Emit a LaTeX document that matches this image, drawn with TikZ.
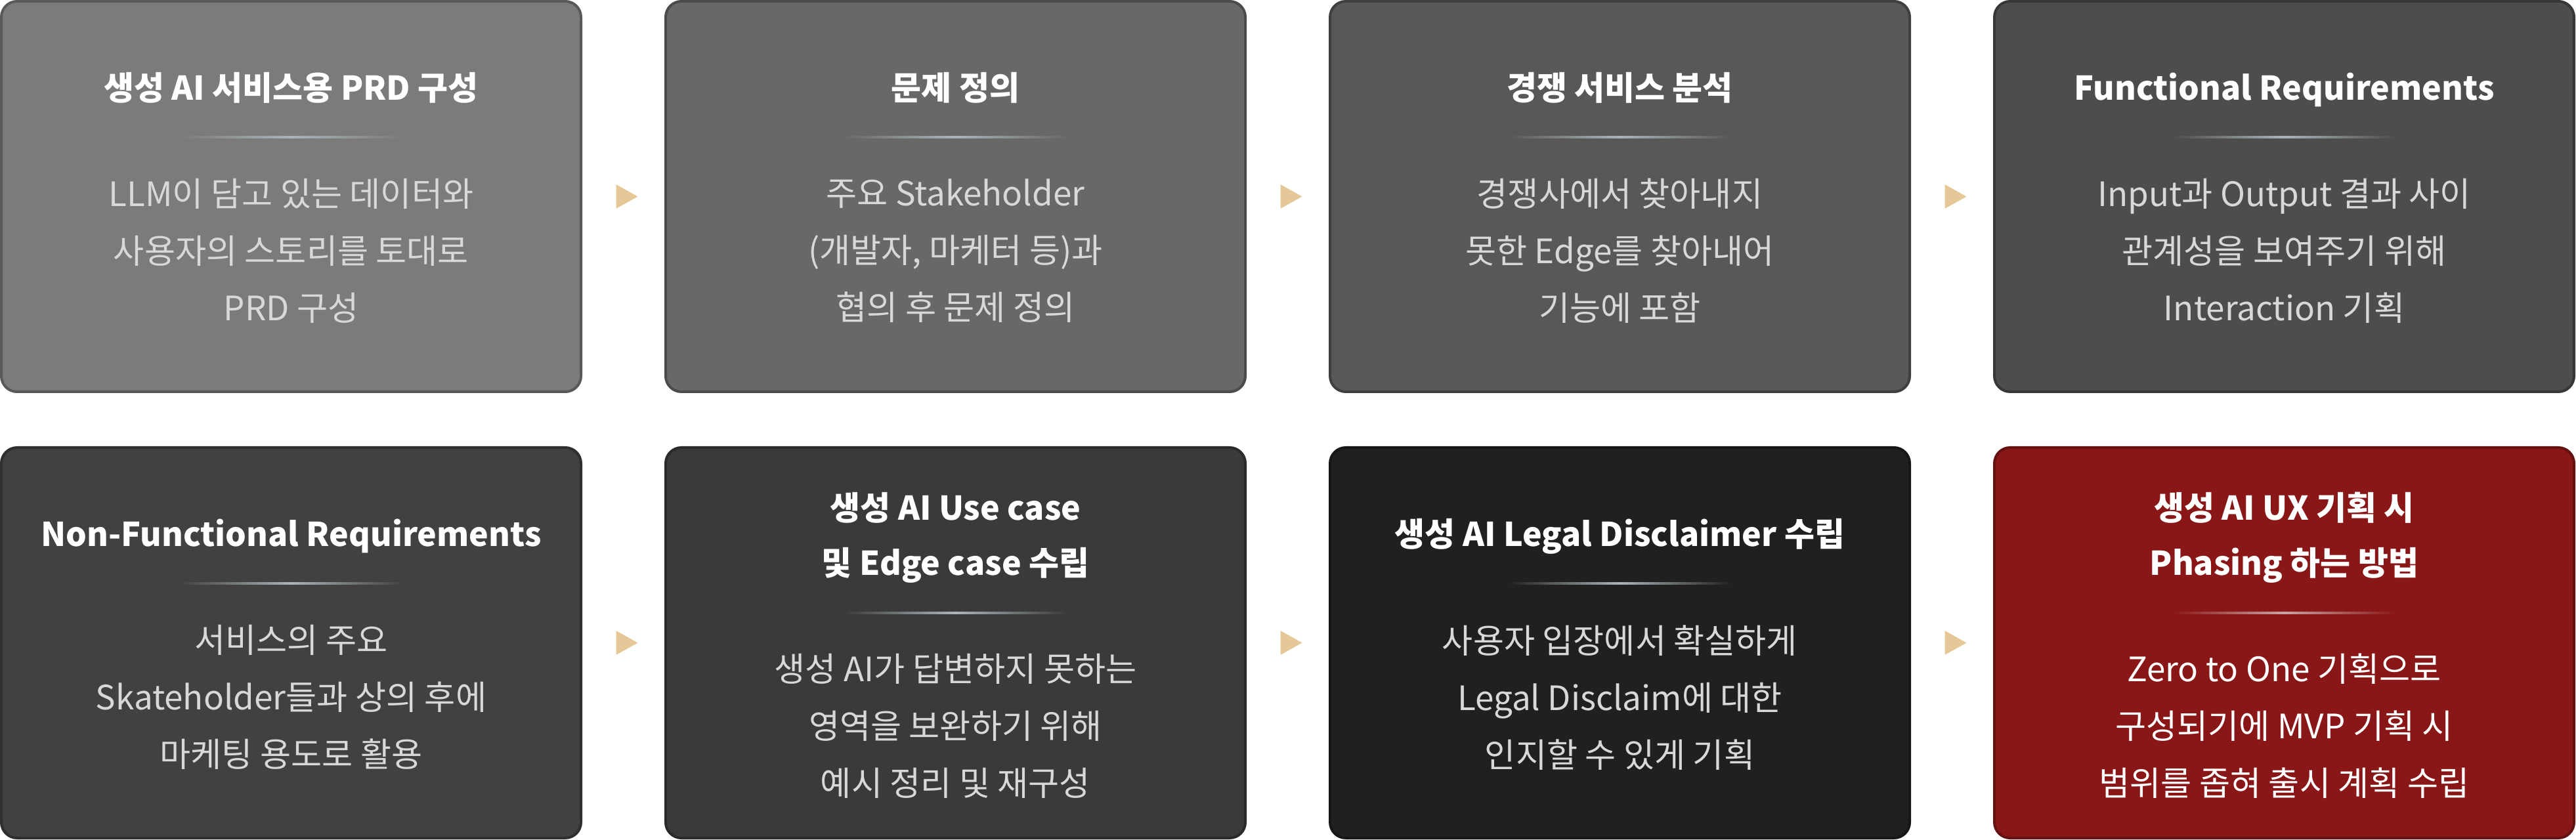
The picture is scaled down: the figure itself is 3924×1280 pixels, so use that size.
\documentclass[tikz,border=0pt]{standalone}
\usepackage{fontspec}
\setmainfont{Noto Sans CJK KR}
\usepackage{xcolor}
\usepackage{tikz}
\usetikzlibrary{positioning,calc}

\definecolor{cA}{HTML}{7B7B7B}
\definecolor{cB}{HTML}{686868}
\definecolor{cC}{HTML}{585858}
\definecolor{cD}{HTML}{4D4D4D}
\definecolor{cE}{HTML}{414141}
\definecolor{cF}{HTML}{3A3A3A}
\definecolor{cG}{HTML}{202020}
\definecolor{cH}{HTML}{8A1717}
\definecolor{bodyc}{HTML}{D8D8D8}
\definecolor{arrowc}{HTML}{E6C898}
\definecolor{divc}{HTML}{A9B5BA}
\definecolor{divr}{HTML}{C9A3A3}

\begin{document}
\begin{tikzpicture}[x=0.25pt, y=-0.25pt,
    card/.style={draw=#1!72!black, fill=#1, line width=1pt, rounded corners=6pt,
        minimum width=220.75pt, minimum height=148.75pt, inner sep=0pt},
    ttl/.style={anchor=south, text=white, align=center, inner sep=0pt, text depth=0pt,
        font={\fontsize{12.5pt}{21pt}\selectfont\bfseries}},
    txt/.style={anchor=north, text=bodyc, align=center, inner sep=0pt,
        font={\fontsize{12.8pt}{21.75pt}\selectfont}},
    tri/.style={fill=arrowc}]
    \useasboundingbox (0,0) rectangle (3924,1280);

    % Row 1
    \node[card=cA] (b1) at (443.5,299.5) {};
    \node[card=cB] (b2) at (1455.5,299.5) {};
    \node[card=cC] (b3) at (2467.5,299.5) {};
    \node[card=cD] (b4) at (3479.5,299.5) {};

    % Row 2
    \node[card=cE] (b5) at (443.5,979.5) {};
    \node[card=cF] (b6) at (1455.5,979.5) {};
    \node[card=cG] (b7) at (2467.5,979.5) {};
    \node[card=cH] (b8) at (3479.5,979.5) {};

    % Dividers
    \coordinate (d1) at ($(b1.center)+(0,-90)$);
    \coordinate (d2) at ($(b2.center)+(0,-90)$);
    \coordinate (d3) at ($(b3.center)+(0,-90)$);
    \coordinate (d4) at ($(b4.center)+(0,-90)$);
    \coordinate (d5) at ($(b5.center)+(0,-90)$);
    \coordinate (d6) at ($(b6.center)+(0,-46)$);
    \coordinate (d7) at ($(b7.center)+(0,-90)$);
    \coordinate (d8) at ($(b8.center)+(0,-46)$);
    \shade[left color=cA, right color=cA, middle color=divc] ($(d1)+(-170,-1.5)$) rectangle ($(d1)+(170,1.5)$);
    \shade[left color=cB, right color=cB, middle color=divc] ($(d2)+(-170,-1.5)$) rectangle ($(d2)+(170,1.5)$);
    \shade[left color=cC, right color=cC, middle color=divc] ($(d3)+(-170,-1.5)$) rectangle ($(d3)+(170,1.5)$);
    \shade[left color=cD, right color=cD, middle color=divc] ($(d4)+(-170,-1.5)$) rectangle ($(d4)+(170,1.5)$);
    \shade[left color=cE, right color=cE, middle color=divc] ($(d5)+(-170,-1.5)$) rectangle ($(d5)+(170,1.5)$);
    \shade[left color=cF, right color=cF, middle color=divc] ($(d6)+(-170,-1.5)$) rectangle ($(d6)+(170,1.5)$);
    \shade[left color=cG, right color=cG, middle color=divc] ($(d7)+(-170,-1.5)$) rectangle ($(d7)+(170,1.5)$);
    \shade[left color=cH, right color=cH, middle color=divr] ($(d8)+(-170,-1.5)$) rectangle ($(d8)+(170,1.5)$);

    % Titles
    \node[ttl] (t1) at ($(d1)+(0,-56)$) {생성 AI 서비스용 PRD 구성};
    \node[ttl] (t2) at ($(d2)+(0,-56)$) {문제 정의};
    \node[ttl] (t3) at ($(d3)+(0,-56)$) {경쟁 서비스 분석};
    \node[ttl] (t4) at ($(d4)+(0,-56)$) {Functional Requirements};
    \node[ttl] (t5) at ($(d5)+(0,-56)$) {Non-Functional Requirements};
    \node[ttl] (t6) at ($(d6)+(0,-56)$) {생성 AI Use case\\및 Edge case 수립};
    \node[ttl] (t7) at ($(d7)+(0,-56)$) {생성 AI Legal Disclaimer 수립};
    \node[ttl] (t8) at ($(d8)+(0,-56)$) {생성 AI UX 기획 시\\Phasing 하는 방법};

    % Texts
    \node[txt] (p1) at ($(d1)+(0,62)$) {LLM이 담고 있는 데이터와\\사용자의 스토리를 토대로\\PRD 구성};
    \node[txt] (p2) at ($(d2)+(0,62)$) {주요 Stakeholder\\(개발자, 마케터 등)과\\협의 후 문제 정의};
    \node[txt] (p3) at ($(d3)+(0,62)$) {경쟁사에서 찾아내지\\못한 Edge를 찾아내어\\기능에 포함};
    \node[txt] (p4) at ($(d4)+(0,62)$) {Input과 Output 결과 사이\\관계성을 보여주기 위해\\Interaction 기획};
    \node[txt] (p5) at ($(d5)+(0,62)$) {서비스의 주요\\Skateholder들과 상의 후에\\마케팅 용도로 활용};
    \node[txt] (p6) at ($(d6)+(0,62)$) {생성 AI가 답변하지 못하는\\영역을 보완하기 위해\\예시 정리 및 재구성};
    \node[txt] (p7) at ($(d7)+(0,62)$) {사용자 입장에서 확실하게\\Legal Disclaim에 대한\\인지할 수 있게 기획};
    \node[txt, text=white] (p8) at ($(d8)+(0,62)$) {Zero to One 기획으로\\구성되기에 MVP 기획 시\\범위를 좁혀 출시 계획 수립};

    % Arrows between cards
    \coordinate (a12) at ($(b1.east)!0.5!(b2.west)$);
    \coordinate (a23) at ($(b2.east)!0.5!(b3.west)$);
    \coordinate (a34) at ($(b3.east)!0.5!(b4.west)$);
    \coordinate (a56) at ($(b5.east)!0.5!(b6.west)$);
    \coordinate (a67) at ($(b6.east)!0.5!(b7.west)$);
    \coordinate (a78) at ($(b7.east)!0.5!(b8.west)$);
    \fill[tri] ($(a12)+(-11,-18.5)$) -- ++(33,18.5) -- ++(-33,18.5) -- cycle;
    \fill[tri] ($(a23)+(-11,-18.5)$) -- ++(33,18.5) -- ++(-33,18.5) -- cycle;
    \fill[tri] ($(a34)+(-11,-18.5)$) -- ++(33,18.5) -- ++(-33,18.5) -- cycle;
    \fill[tri] ($(a56)+(-11,-18.5)$) -- ++(33,18.5) -- ++(-33,18.5) -- cycle;
    \fill[tri] ($(a67)+(-11,-18.5)$) -- ++(33,18.5) -- ++(-33,18.5) -- cycle;
    \fill[tri] ($(a78)+(-11,-18.5)$) -- ++(33,18.5) -- ++(-33,18.5) -- cycle;

\end{tikzpicture}
\end{document}
